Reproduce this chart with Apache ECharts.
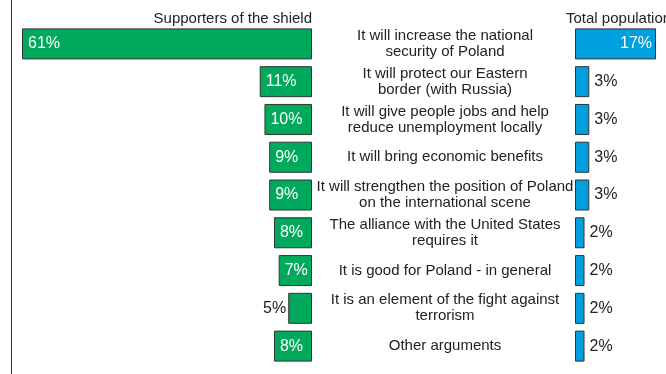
<!DOCTYPE html>
<html>
<head>
<meta charset="utf-8">
<script src="https://cdn.jsdelivr.net/npm/echarts@6/dist/echarts.min.js"></script>
<style>
  html, body { margin: 0; padding: 0; background: #fff; }
  #chart { width: 666px; height: 374px; }
</style>
</head>
<body>
<div id="chart"></div>
<script>
// Reasons for supporting the missile shield
const categories = [
  "It will increase the national\nsecurity of Poland",
  "It will protect our Eastern\nborder (with Russia)",
  "It will give people jobs and help\nreduce unemployment locally",
  "It will bring economic benefits",
  "It will strengthen the position of Poland\non the international scene",
  "The alliance with the United States\nrequires it",
  "It is good for Poland - in general",
  "It is an element of the fight against\nterrorism",
  "Other arguments"
];
const supporters = [61, 11, 10, 9, 9, 8, 7, 5, 8];
const totalPopulation = [17, 3, 3, 3, 3, 2, 2, 2, 2];
const groupTitles = ["Supporters of the shield", "Total population"];

const GREEN = "#00a95c";
const BLUE = "#009fdf";
const EDGE = "#333333";
const TEXT = "#222222";
const FONT = "Liberation Sans, Arial, sans-serif";

const chart = echarts.init(document.getElementById("chart"), null, { renderer: "canvas" });

// Small values do not fit inside their bar, so their label goes outside
const greenData = supporters.map(v => v >= 7
  ? { value: v, label: { position: "insideLeft", color: "#fff", distance: 6 } }
  : { value: v, label: { position: "left", color: TEXT, distance: 2 } });
const blueData = totalPopulation.map(v => v >= 10
  ? { value: v, label: { position: "insideRight", color: "#fff", distance: 4 } }
  : { value: v, label: { position: "right", color: TEXT, distance: 5 } });

chart.setOption({
  animation: false,
  textStyle: { fontFamily: FONT },
  title: [
    { text: groupTitles[0], right: 666 - 312, top: 11, padding: 0,
      textStyle: { fontSize: 15, fontWeight: "normal", color: TEXT, fontFamily: FONT } },
    { text: groupTitles[1], left: 566, top: 11, padding: 0,
      textStyle: { fontSize: 15, fontWeight: "normal", color: TEXT, fontFamily: FONT } }
  ],
  grid: [
    { left: 22, width: 290, top: 25, height: 340 },
    { left: 575, width: 81, top: 25, height: 340 }
  ],
  xAxis: [
    { gridIndex: 0, type: "value", min: 0, max: 61, inverse: true, show: false },
    { gridIndex: 1, type: "value", min: 0, max: 17, show: false }
  ],
  yAxis: [
    { gridIndex: 0, type: "category", data: categories, inverse: true, show: false },
    { gridIndex: 1, type: "category", data: categories, inverse: true,
      axisLine: { show: false }, axisTick: { show: false },
      axisLabel: { margin: 130, align: "center", fontSize: 15, lineHeight: 16,
        padding: [2, 0, 0, 0], color: TEXT, fontFamily: FONT, interval: 0 } }
  ],
  series: [
    { type: "bar", xAxisIndex: 0, yAxisIndex: 0, data: greenData, barWidth: 31,
      itemStyle: { color: GREEN, borderColor: EDGE, borderWidth: 1 },
      label: { show: true, formatter: "{c}%", fontSize: 16, fontFamily: FONT } },
    { type: "bar", xAxisIndex: 1, yAxisIndex: 1, data: blueData, barWidth: 31,
      itemStyle: { color: BLUE, borderColor: EDGE, borderWidth: 1 },
      label: { show: true, formatter: "{c}%", fontSize: 16, fontFamily: FONT } }
  ],
  graphic: [
    { type: "line", shape: { x1: 11.5, y1: 0, x2: 11.5, y2: 374 },
      style: { stroke: EDGE, lineWidth: 1 } }
  ]
});
</script>
</body>
</html>
